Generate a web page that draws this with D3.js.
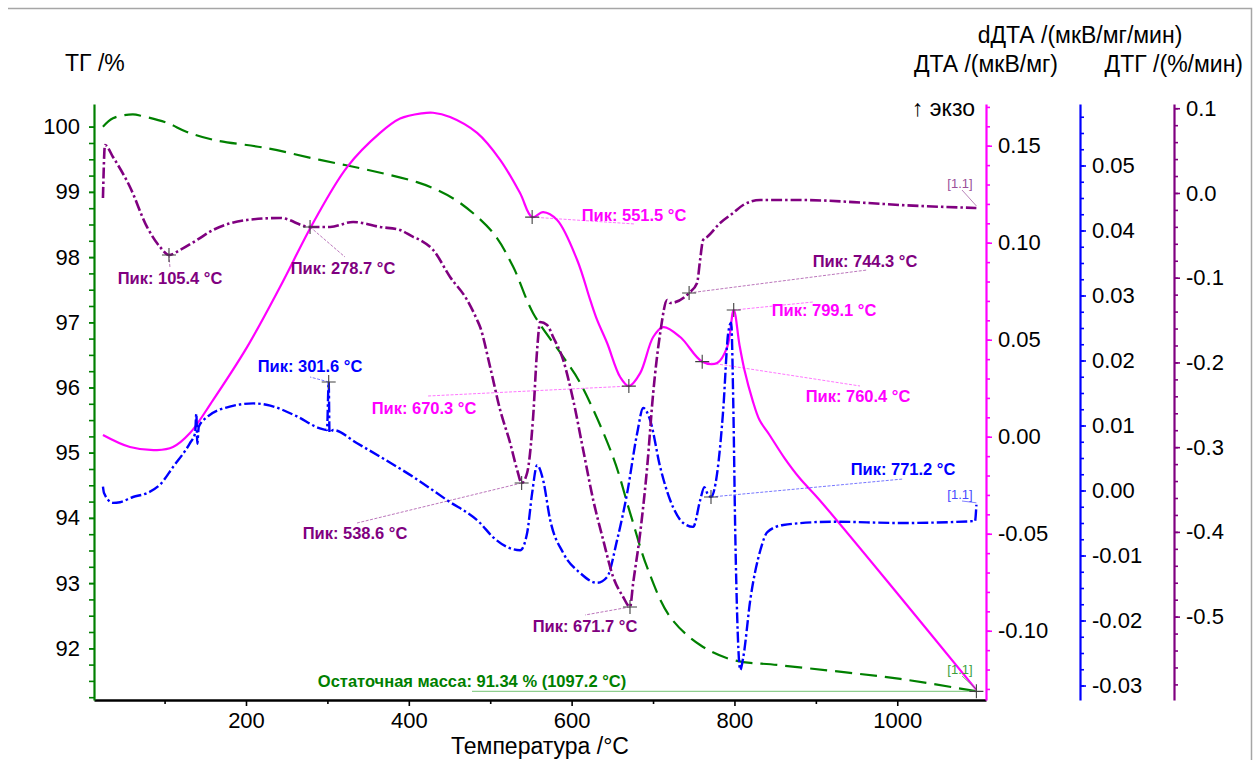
<!DOCTYPE html>
<html>
<head>
<meta charset="utf-8">
<script src="https://cdn.jsdelivr.net/npm/d3@7"></script>
<style>
  body { margin: 0; background: #fff; }
  svg { display: block; }
  text { font-family: "Liberation Sans", Arial, sans-serif; }
</style>
</head>
<body>
<svg id="chart" width="1258" height="760"></svg>
<script>
// ---- Thermal analysis data (temperature in °C) ----
// ТГ, mass %
const tgTemp = [24.3, 36.6, 61, 73.3, 102.8, 127.4, 159.5, 225.8, 291, 348.8, 410, 434.7, 463, 503.6, 528.2, 552.7, 589.6, 610.5, 651, 672, 692.8, 721.1, 757.9, 798.5, 856, 1003.7, 1097.2];
const tgMass = [100.0, 100.13, 100.19, 100.16, 100.06, 99.92, 99.80, 99.67, 99.49, 99.34, 99.15, 99.03, 98.83, 98.37, 97.85, 97.14, 96.47, 96.07, 94.93, 94.07, 93.24, 92.48, 92.05, 91.82, 91.74, 91.53, 91.34];

// ДТА, мкВ/мг
const dtaTemp = [24.3, 57.5, 90.7, 110.3, 131.2, 159.5, 201.3, 241.8, 282.4, 324.2, 364.7, 389.3, 416, 429.8, 450.7, 483.9, 512.4, 536.6, 551.5, 565, 582.2, 606.8, 622.8, 631.3, 643.6, 659.6, 670.3, 684.2, 700.2, 712.5, 733.4, 760.4, 778.8, 791.1, 799.1, 806.2, 812.3, 822.2, 830.8, 843.1, 861.5, 880, 904.5, 1003.7, 1097.2];
const dtaVal = [0.0009, -0.0053, -0.0069, -0.0053, 0.0019, 0.0189, 0.0462, 0.0772, 0.1102, 0.139, 0.1566, 0.1640, 0.1667, 0.1670, 0.1648, 0.1566, 0.1426, 0.1256, 0.1132, 0.1158, 0.1117, 0.0911, 0.0705, 0.0602, 0.0483, 0.0308, 0.0261, 0.0328, 0.0514, 0.0565, 0.0514, 0.0387, 0.0380, 0.0462, 0.0653, 0.0473, 0.0344, 0.0189, 0.0086, 0.0009, -0.0110, -0.0213, -0.0326, -0.0826, -0.1305];

// dДТА, мкВ/мг/мин
const ddtaTemp = [24.3, 25.6, 36.5, 45.2, 61.2, 78.4, 94.4, 110.3, 131.2, 137.5, 139.0, 140.2, 142.0, 152.1, 180, 209, 225, 262.7, 290, 299.5, 301.6, 302.6, 307, 336, 364.7, 405.3, 447.1, 487.6, 503.6, 520.8, 536.8, 545.4, 551.5, 557.6, 565, 573.6, 589.6, 610.5, 631.3, 643.6, 655.9, 668.2, 680.5, 687.9, 696.5, 708.8, 721.1, 737.1, 749.3, 757.9, 763, 767, 771.2, 778.8, 786.2, 792.3, 796, 798.5, 801, 803.5, 807.2, 810.9, 819.5, 831.8, 840.4, 859.9, 921.4, 1003.7, 1095.5, 1097.2];
const ddtaVal = [0.0006, -0.0004, -0.0019, -0.0018, -0.0010, -0.0004, 0.0009, 0.0036, 0.0073, 0.0088, 0.0118, 0.0072, 0.0098, 0.0113, 0.0129, 0.0134, 0.0132, 0.0114, 0.0096, 0.0093, 0.0167, 0.0089, 0.0093, 0.0073, 0.0052, 0.0021, -0.0015, -0.0050, -0.0072, -0.0087, -0.0092, -0.0065, -0.0004, 0.0039, 0.0016, -0.0045, -0.0096, -0.0127, -0.0142, -0.0133, -0.0076, -0.0004, 0.0088, 0.0127, 0.0108, 0.0036, -0.0015, -0.0050, -0.0056, -0.0015, 0.0005, -0.0005, -0.0010, 0.0027, 0.0124, 0.0242, 0.0258, 0.0139, -0.0065, -0.0199, -0.0276, -0.0256, -0.0168, -0.0092, -0.0064, -0.0053, -0.0048, -0.0050, -0.0047, -0.0022];

// ДТГ, %/мин
const dtgTemp = [24.3, 26.8, 36.6, 57.5, 78.4, 94.4, 105.4, 119, 139.8, 159.5, 201.3, 241.8, 278.7, 303.3, 331.6, 364.7, 389.3, 405.3, 413.9, 429.9, 450.7, 471.6, 483.9, 487.6, 499.9, 512.2, 524.5, 533.1, 538.6, 545.3, 552.7, 557.6, 561.3, 569.9, 577.3, 589.6, 601.9, 614.2, 626.5, 638.8, 651, 663.3, 671.7, 675.6, 684.2, 692.8, 700.2, 708.8, 717.4, 721.1, 744.3, 754.1, 757.8, 761.5, 766.4, 782.4, 798.4, 810.7, 831.6, 880.7, 963, 1003.7, 1097.2];
const dtgVal = [-0.0060, 0.0567, 0.0425, 0.0071, -0.0401, -0.0637, -0.0732, -0.0673, -0.0555, -0.0437, -0.0319, -0.0295, -0.0401, -0.0401, -0.0342, -0.0401, -0.0437, -0.0519, -0.0555, -0.0673, -0.0991, -0.1263, -0.1499, -0.1582, -0.2054, -0.2561, -0.2951, -0.3269, -0.3423, -0.3305, -0.2644, -0.1853, -0.1523, -0.1558, -0.1700, -0.1971, -0.2443, -0.3033, -0.3623, -0.4096, -0.4532, -0.4768, -0.4886, -0.4603, -0.4013, -0.3234, -0.2360, -0.1652, -0.1263, -0.1298, -0.1180, -0.1062, -0.0791, -0.0555, -0.0519, -0.0354, -0.0236, -0.0142, -0.0083, -0.0083, -0.0118, -0.0142, -0.0177];

// Detected peaks
const peakTemp   = [105.4, 278.7, 301.6, 551.5, 670.3, 538.6, 671.7, 744.3, 799.1, 760.4, 771.2];
const peakSeries = ["dtg", "dtg", "ddta", "dta", "dta", "dtg", "dtg", "dtg", "dta", "dta", "ddta"];
const peakValue  = [-0.0732, -0.0401, 0.0167, 0.1132, 0.0261, -0.3423, -0.4886, -0.1180, 0.0653, 0.0387, -0.0010];

// Residual mass
const residualMass = 91.34;
const residualTemp = 1097.2;

// Tick values
const xTicksMajor = [200, 400, 600, 800, 1000];
const xTicksMinor = [100, 300, 500, 700, 900];
const tgTicks = [92, 93, 94, 95, 96, 97, 98, 99, 100];
const dtaTicks = [-0.10, -0.05, 0.00, 0.05, 0.10, 0.15];
const ddtaTicks = [-0.03, -0.02, -0.01, 0.00, 0.01, 0.02, 0.03, 0.04, 0.05];
const dtgTicks = [-0.5, -0.4, -0.3, -0.2, -0.1, 0.0, 0.1];

// ---- Layout ----
const svg = d3.select("#chart");
const plot = { left: 94, right: 986, top: 104, bottom: 700 };
const col = { tg: "#008000", dta: "#ff00ff", ddta: "#0000ff", dtg: "#800080" };

const x = d3.scaleLinear().domain([13.3, 1109]).range([plot.left, plot.right]);
const yTG = d3.scaleLinear().domain([91.207, 100.348]).range([plot.bottom, plot.top]);
const yDTA = d3.scaleLinear().domain([-0.1357, 0.1715]).range([plot.bottom, plot.top]);
const yDDTA = d3.scaleLinear().domain([-0.03223, 0.05946]).range([plot.bottom, plot.top]);
const yDTG = d3.scaleLinear().domain([-0.5984, 0.105]).range([plot.bottom, plot.top]);
const yOf = { tg: yTG, dta: yDTA, ddta: yDDTA, dtg: yDTG };

const fmt = (digits) => (d) => {
  const r = Math.abs(d) < 1e-9 ? 0 : d;
  return r.toFixed(digits);
};

// Frame lines (top and right)
svg.append("path")
  .attr("d", "M8,8.5 H1251.5 V760")
  .attr("fill", "none").attr("stroke", "#a6a6a6").attr("stroke-width", 1.5);

function styleAxis(g, color, width) {
  g.select(".domain").attr("stroke", color).attr("stroke-width", width);
  g.selectAll(".tick line").attr("stroke", color).attr("stroke-width", 1.6);
  g.selectAll(".tick text").attr("fill", "#000").attr("font-size", 22)
    .attr("font-family", "'Liberation Sans', Arial, sans-serif");
}

// Bottom temperature axis
const gxMinor = svg.append("g").attr("transform", `translate(0,${plot.bottom})`)
  .call(d3.axisBottom(x).tickValues(xTicksMinor).tickSize(4).tickFormat(""));
gxMinor.select(".domain").remove();
gxMinor.selectAll(".tick line").attr("stroke", "#000").attr("stroke-width", 1.6);
const gx = svg.append("g").attr("transform", `translate(0,${plot.bottom})`)
  .call(d3.axisBottom(x).tickValues(xTicksMajor).tickSize(6).tickSizeOuter(0).tickPadding(6).tickFormat(d3.format("d")));
styleAxis(gx, "#000", 2.5);
gx.selectAll(".tick line").attr("stroke", "#000");

// Left ТГ axis
const gtMinor = svg.append("g").attr("transform", `translate(${plot.left},0)`)
  .call(d3.axisLeft(yTG).tickValues(d3.range(365, 401).map(i => i * 0.25)).tickSize(5).tickFormat(""));
gtMinor.select(".domain").remove();
gtMinor.selectAll(".tick line").attr("stroke", col.tg).attr("stroke-width", 1.6);
const gt = svg.append("g").attr("transform", `translate(${plot.left},0)`)
  .call(d3.axisLeft(yTG).tickValues(tgTicks).tickSize(5).tickSizeOuter(0).tickPadding(9).tickFormat(d3.format("d")));
styleAxis(gt, col.tg, 2.2);

// Right axes
function rightAxis(scale, xPos, color, minorVals, majorVals, digits) {
  const gm = svg.append("g").attr("transform", `translate(${xPos},0)`)
    .call(d3.axisRight(scale).tickValues(minorVals).tickSize(4).tickFormat(""));
  gm.select(".domain").remove();
  gm.selectAll(".tick line").attr("stroke", color).attr("stroke-width", 1.6);
  const g = svg.append("g").attr("transform", `translate(${xPos},0)`)
    .call(d3.axisRight(scale).tickValues(majorVals).tickSize(6).tickSizeOuter(0).tickPadding(6).tickFormat(fmt(digits)));
  styleAxis(g, color, 2.2);
}
rightAxis(yDTA, plot.right, col.dta, d3.range(-13, 18).map(i => i / 100), dtaTicks, 2);
rightAxis(yDDTA, 1080, col.ddta, d3.range(-12, 24).map(i => i * 0.0025), ddtaTicks, 2);
rightAxis(yDTG, 1174, col.dtg, d3.range(-29, 6).map(i => i * 0.02), dtgTicks, 1);

// Axis titles
const title = (txt, xPos, yPos, anchor) => svg.append("text")
  .attr("x", xPos).attr("y", yPos).attr("text-anchor", anchor || "start")
  .attr("dy", "0.35em").attr("font-size", 23).attr("fill", "#000").text(txt);
title("ТГ /%", 65, 63);
title("dДТА /(мкВ/мг/мин)", 1080, 35, "middle");
title("ДТА /(мкВ/мг)", 1058, 64, "end");
title("ДТГ /(%/мин)", 1243, 64, "end");
title("↑ экзо", 975, 108, "end");
title("Температура /°C", 540, 746, "middle");

// ---- Curves ----
const zip = (a, b) => a.map((t, i) => [t, b[i]]);
function curve(temps, vals, yScale, color, dash, width, interp) {
  const line = d3.line().x(d => x(d[0])).y(d => yScale(d[1])).curve(interp);
  svg.append("path").datum(zip(temps, vals))
    .attr("d", line).attr("fill", "none").attr("stroke", color)
    .attr("stroke-width", width).attr("stroke-dasharray", dash)
    .attr("stroke-linejoin", "round");
}
curve(tgTemp, tgMass, yTG, col.tg, "17,8", 2.2, d3.curveCatmullRom.alpha(0.5));
curve(dtaTemp, dtaVal, yDTA, col.dta, null, 2.2, d3.curveCatmullRom.alpha(0.5));
curve(ddtaTemp, ddtaVal, yDDTA, col.ddta, "11,3,2.5,3", 2.4, d3.curveMonotoneX);
curve(dtgTemp, dtgVal, yDTG, col.dtg, "11,3,2.5,3", 2.6, d3.curveMonotoneX);

// ---- Peak annotations ----
// label centre and leader end points
const labelPos = [
  [170, 278, 170, 268],
  [343, 268, 345, 257],
  [310, 366, 310, 377],
  [634, 215, 635, 224],
  [424, 408, 428, 396],
  [355, 533, 357, 523],
  [585, 626, 585, 615],
  [865, 261, 867, 270],
  [824, 310, 813, 302],
  [858, 396, 860, 386],
  [903, 469, 903, 479]
];

function cross(px, py) {
  svg.append("path")
    .attr("d", `M${px - 7},${py} H${px + 7} M${px},${py - 7} V${py + 7}`)
    .attr("stroke", "#404040").attr("stroke-width", 1.1).attr("fill", "none");
}

peakTemp.forEach((t, i) => {
  const s = peakSeries[i];
  const px = x(t), py = yOf[s](peakValue[i]);
  const [lx, ly, ex, ey] = labelPos[i];
  svg.append("line").attr("x1", px).attr("y1", py).attr("x2", ex).attr("y2", ey)
    .attr("stroke", col[s]).attr("stroke-width", 0.9).attr("stroke-opacity", 0.6)
    .attr("stroke-dasharray", "3,1.5");
  cross(px, py);
  svg.append("text").attr("x", lx).attr("y", ly).attr("dy", "0.35em")
    .attr("text-anchor", "middle").attr("font-size", 16.5).attr("font-weight", "bold")
    .attr("fill", col[s]).text(`Пик: ${t.toFixed(1)} °C`);
});

// Residual mass annotation
const rx = x(residualTemp), ry = yTG(residualMass);
svg.append("line").attr("x1", 472).attr("y1", ry).attr("x2", rx).attr("y2", ry)
  .attr("stroke", "#8fcf8f").attr("stroke-width", 1.2);
cross(rx, ry);
svg.append("text").attr("x", 472).attr("y", 681).attr("dy", "0.35em")
  .attr("text-anchor", "middle").attr("font-size", 16.5).attr("font-weight", "bold")
  .attr("fill", col.tg)
  .text(`Остаточная масса: ${residualMass.toFixed(2)} % (${residualTemp.toFixed(1)} °C)`);

// Segment end tags
const tags = [
  ["dtg", dtgVal[dtgVal.length - 1], 183, "#9a4f9a"],
  ["ddta", ddtaVal[ddtaVal.length - 1], 494, "#4a4aff"],
  ["tg", tgMass[tgMass.length - 1], 669, "#3ca03c"]
];
tags.forEach(([s, v, ty, c]) => {
  const ex = x(dtgTemp[dtgTemp.length - 1]), ey = yOf[s](v);
  svg.append("line").attr("x1", 962).attr("y1", ty + 7).attr("x2", ex).attr("y2", ey - 2)
    .attr("stroke", c).attr("stroke-width", 0.7);
  svg.append("text").attr("x", 960).attr("y", ty).attr("dy", "0.35em")
    .attr("text-anchor", "middle").attr("font-size", 13).attr("fill", c).text("[1.1]");
});
</script>
</body>
</html>
